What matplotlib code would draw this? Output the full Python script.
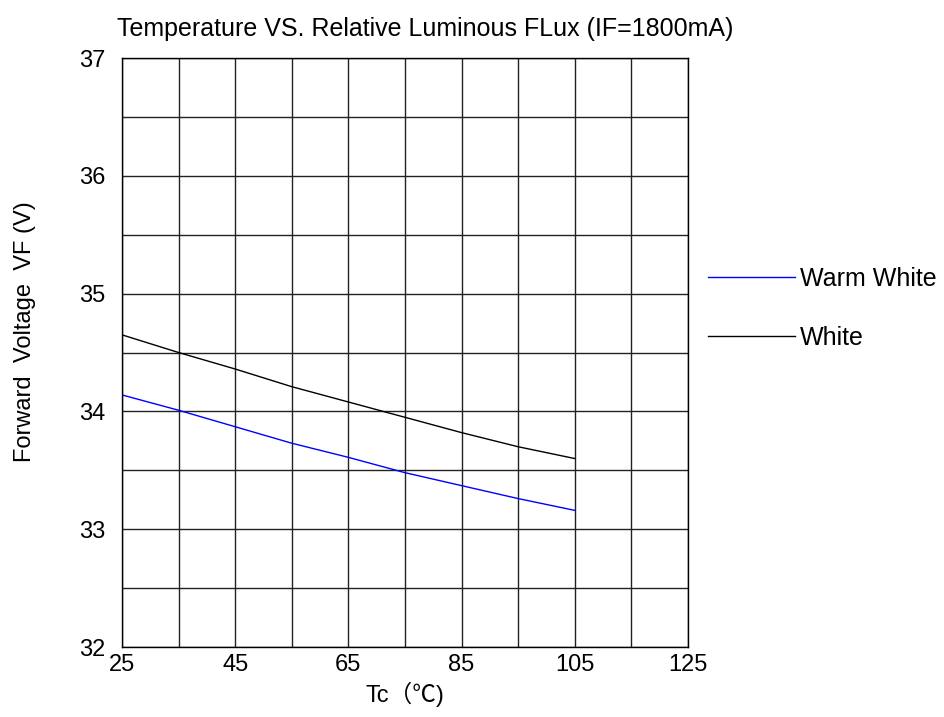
import numpy as np
import matplotlib.pyplot as plt

plt.rcParams['font.family'] = ['Liberation Sans', 'Noto Sans CJK SC', 'DejaVu Sans']

# values
tc = [25, 35, 45, 55, 65, 75, 85, 95, 105]
vf_white = [34.65, 34.50, 34.36, 34.21, 34.08, 33.95, 33.82, 33.70, 33.60]
vf_warm = [34.14, 34.01, 33.87, 33.73, 33.61, 33.48, 33.37, 33.26, 33.16]
xticks = [25, 45, 65, 85, 105, 125]
xgrid = [25, 35, 45, 55, 65, 75, 85, 95, 105, 115, 125]
yticks = [32, 33, 34, 35, 36, 37]
ygrid = [32, 32.5, 33, 33.5, 34, 34.5, 35, 35.5, 36, 36.5, 37]

fig = plt.figure(figsize=(9.44, 7.17), dpi=100)
ax = fig.add_axes([0.1292, 0.0976, 0.5996, 0.8215])

ax.plot(tc, vf_warm, color='#0000ff', lw=1.0, label='Warm White')
ax.plot(tc, vf_white, color='black', lw=1.0, label='White')

ax.set_xlim(25, 125)
ax.set_ylim(32, 37)
ax.set_xticks(xticks)
ax.set_yticks(yticks)
ax.set_xticks(xgrid, minor=True)
ax.set_yticks(ygrid, minor=True)
ax.grid(True, which='both', color='#222222', lw=1.0)
ax.tick_params(which='both', length=0, labelsize=17)
ax.tick_params(axis='y', pad=12)
ax.tick_params(axis='x', pad=5)
for s in ax.spines.values():
    s.set_color('black')
    s.set_linewidth(1.0)

ax.set_title('Temperature VS. Relative Luminous FLux (IF=1800mA)', fontsize=18, loc='left', x=-0.008, pad=16)
ax.set_xlabel('Tc\uff08\u2103)', fontsize=17, labelpad=4)
ax.set_ylabel('Forward  Voltage  VF (V)', fontsize=17)
ax.yaxis.set_label_coords(-0.152, 0.535)

ax.legend(loc='upper left', bbox_to_anchor=(1.035, 0.645), frameon=False, fontsize=18,
          handlelength=3.5, handletextpad=0.2, labelspacing=1.4, borderaxespad=0, borderpad=0)

fig.savefig('out.png', dpi=100)
